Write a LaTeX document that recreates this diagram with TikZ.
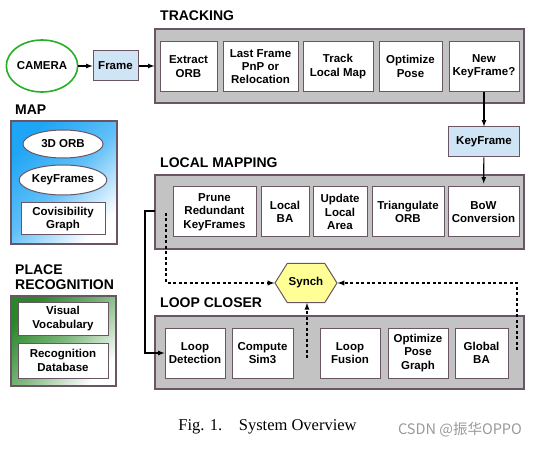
\documentclass[tikz,border=0pt]{standalone}
\usepackage{fontspec}
\setmainfont{Liberation Serif}
\setsansfont{Liberation Sans}
\newfontfamily\cjkfont{Noto Sans CJK SC}
\usetikzlibrary{arrows.meta}
\usetikzlibrary{shapes.geometric,shapes.symbols}
\tikzset{>=latex}
\definecolor{edgemauve}{RGB}{105,85,100}
\definecolor{threadgray}{RGB}{195,195,195}
\definecolor{dataBlue}{RGB}{207,228,245}
\definecolor{camgreen}{RGB}{40,175,40}
\definecolor{mapblue}{RGB}{30,165,245}
\definecolor{placegreen}{RGB}{40,135,40}
\definecolor{synchyellow}{RGB}{255,255,150}
\newcommand{\boxfont}{\sffamily\bfseries\fontsize{11.5}{13.3}\selectfont}
\tikzset{
  thread/.style={draw=edgemauve, fill=threadgray, line width=1.2pt, inner sep=0pt,
    minimum width=369pt, minimum height=74pt},
  task/.style={draw=edgemauve, fill=white, line width=1pt, inner sep=0pt,
    align=center, font=\boxfont, minimum height=50pt},
  data/.style={draw=edgemauve, fill=dataBlue, line width=1pt, inner sep=0pt,
    font=\boxfont, minimum height=30pt},
  header/.style={anchor=west, inner sep=0pt, align=left,
    font=\sffamily\bfseries\fontsize{14}{15}\selectfont},
  store/.style={draw=edgemauve, fill=white, line width=1pt, inner sep=0pt,
    align=center, font=\boxfont},
  flow/.style={->, line width=1.2pt},
  sync/.style={->, line width=1.3pt, dash pattern=on 3pt off 2.5pt}
}
\begin{document}
\begin{tikzpicture}[x=1pt,y=-1pt]
  \useasboundingbox (0,0) rectangle (541,449);
  % tracking
  \node[header] (trackhead) at (160,16) {TRACKING};
  \node[draw=camgreen, line width=1.6pt, ellipse, inner sep=0pt, minimum width=61pt,
    minimum height=52pt, font=\boxfont] (camera) at (42,66) {CAMERA};
  \node[data, minimum width=45pt] (frame) at (115.5,66) {Frame};
  \node[thread] (track) at (339.5,66) {};
  \node[task, minimum width=57pt] (extract) at (188.5,66.5) {Extract\\ORB};
  \node[task, minimum width=75pt] (lastframe) at (260.5,66.5) {Last Frame\\PnP or\\Relocation};
  \node[task, minimum width=70pt] (trackmap) at (338,66.5) {Track\\Local Map};
  \node[task, minimum width=63pt] (optpose) at (410.5,66.5) {Optimize\\Pose};
  \node[task, minimum width=70pt] (newkf) at (484,66.5) {New\\KeyFrame?};
  \node[data, minimum width=71pt] (keyframe) at (484,142) {KeyFrame};
  \draw[flow] (camera) -- (frame);
  \draw[flow] (frame) -- (track);
  \draw[flow] (newkf) -- (keyframe);
  % map
  \node[header] (maphead) at (15,110) {MAP};
  \node[draw=edgemauve, line width=1.2pt, top color=mapblue, bottom color=white,
    middle color=mapblue!70, shading angle=45, minimum width=106pt, minimum height=123pt,
    inner sep=0pt] (map) at (64,182.5) {};
  \node[store, ellipse, minimum width=80pt, minimum height=28pt] (orb) at (63,144) {3D ORB};
  \node[store, ellipse, minimum width=80pt, minimum height=30pt] (keyframes) at (63,180) {KeyFrames};
  \node[store, minimum width=84pt, minimum height=32pt] (covis) at (63,219) {Covisibility\\Graph};
  % place recognition
  \node[header] (placehead) at (15,277.5) {PLACE\\RECOGNITION};
  \node[draw=edgemauve, line width=1.2pt, top color=placegreen, bottom color=white,
    middle color=placegreen!60, shading angle=45, minimum width=105pt, minimum height=90pt,
    inner sep=0pt] (place) at (63.5,341) {};
  \node[store, minimum width=90pt, minimum height=33pt] (vocab) at (63,318.5) {Visual\\Vocabulary};
  \node[store, minimum width=90pt, minimum height=35pt] (recdb) at (63,360.5) {Recognition\\Database};
  % local mapping
  \node[header] (lmhead) at (160,163) {LOCAL MAPPING};
  \node[thread] (lmap) at (339.5,212) {};
  \node[task, minimum width=83pt] (prune) at (214.5,212) {Prune\\Redundant\\KeyFrames};
  \node[task, minimum width=48pt] (localba) at (285,212) {Local\\BA};
  \node[task, minimum width=54pt] (update) at (340,212) {Update\\Local\\Area};
  \node[task, minimum width=72pt] (triang) at (408,212) {Triangulate\\ORB};
  \node[task, minimum width=71pt] (bow) at (483.5,212) {BoW\\Conversion};
  \draw[flow, shorten >=3pt] (keyframe) -- (bow);
  % synch
  \node[shape=signal, signal to=west and east, signal pointer angle=116,
    draw=edgemauve, line width=1pt, fill=synchyellow, minimum width=62pt,
    minimum height=39pt, inner sep=0pt, font=\boxfont] (synch) at (306,283) {Synch};
  % loop closer
  \node[header] (lchead) at (160,303) {LOOP CLOSER};
  \node[thread, minimum height=73pt] (loop) at (339.5,352.5) {};
  \node[task, minimum width=60pt] (loopdet) at (195,353) {Loop\\Detection};
  \node[task, minimum width=61pt] (sim3) at (262.5,353) {Compute\\Sim3};
  \node[task, minimum width=60pt] (fusion) at (350,353) {Loop\\Fusion};
  \node[task, minimum width=60pt] (optgraph) at (418,353) {Optimize\\Pose\\Graph};
  \node[task, minimum width=53pt] (globalba) at (481.5,353) {Global\\BA};
  \coordinate (lmexit) at (155,211);
  \coordinate (lmwait) at (166,213);
  \coordinate (lcwait) at (307,358);
  \coordinate (gbwait) at (517,350);
  \draw[flow] (lmexit) -- ++(-10,0) |- (loopdet);
  \draw[sync] (lmwait) |- (synch);
  \draw[sync] (gbwait) |- (synch);
  \draw[sync] (lcwait) -- (lcwait |- synch.south);
  % caption
  \node[font=\rmfamily\fontsize{16.5}{18}\selectfont] (caption) at (267.5,427) {Fig. 1.\quad System Overview};
  \node[text=black!40, font=\cjkfont\fontsize{14.5}{16}\selectfont] (mark) at (460,430) {CSDN @振华OPPO};
\end{tikzpicture}
\end{document}
